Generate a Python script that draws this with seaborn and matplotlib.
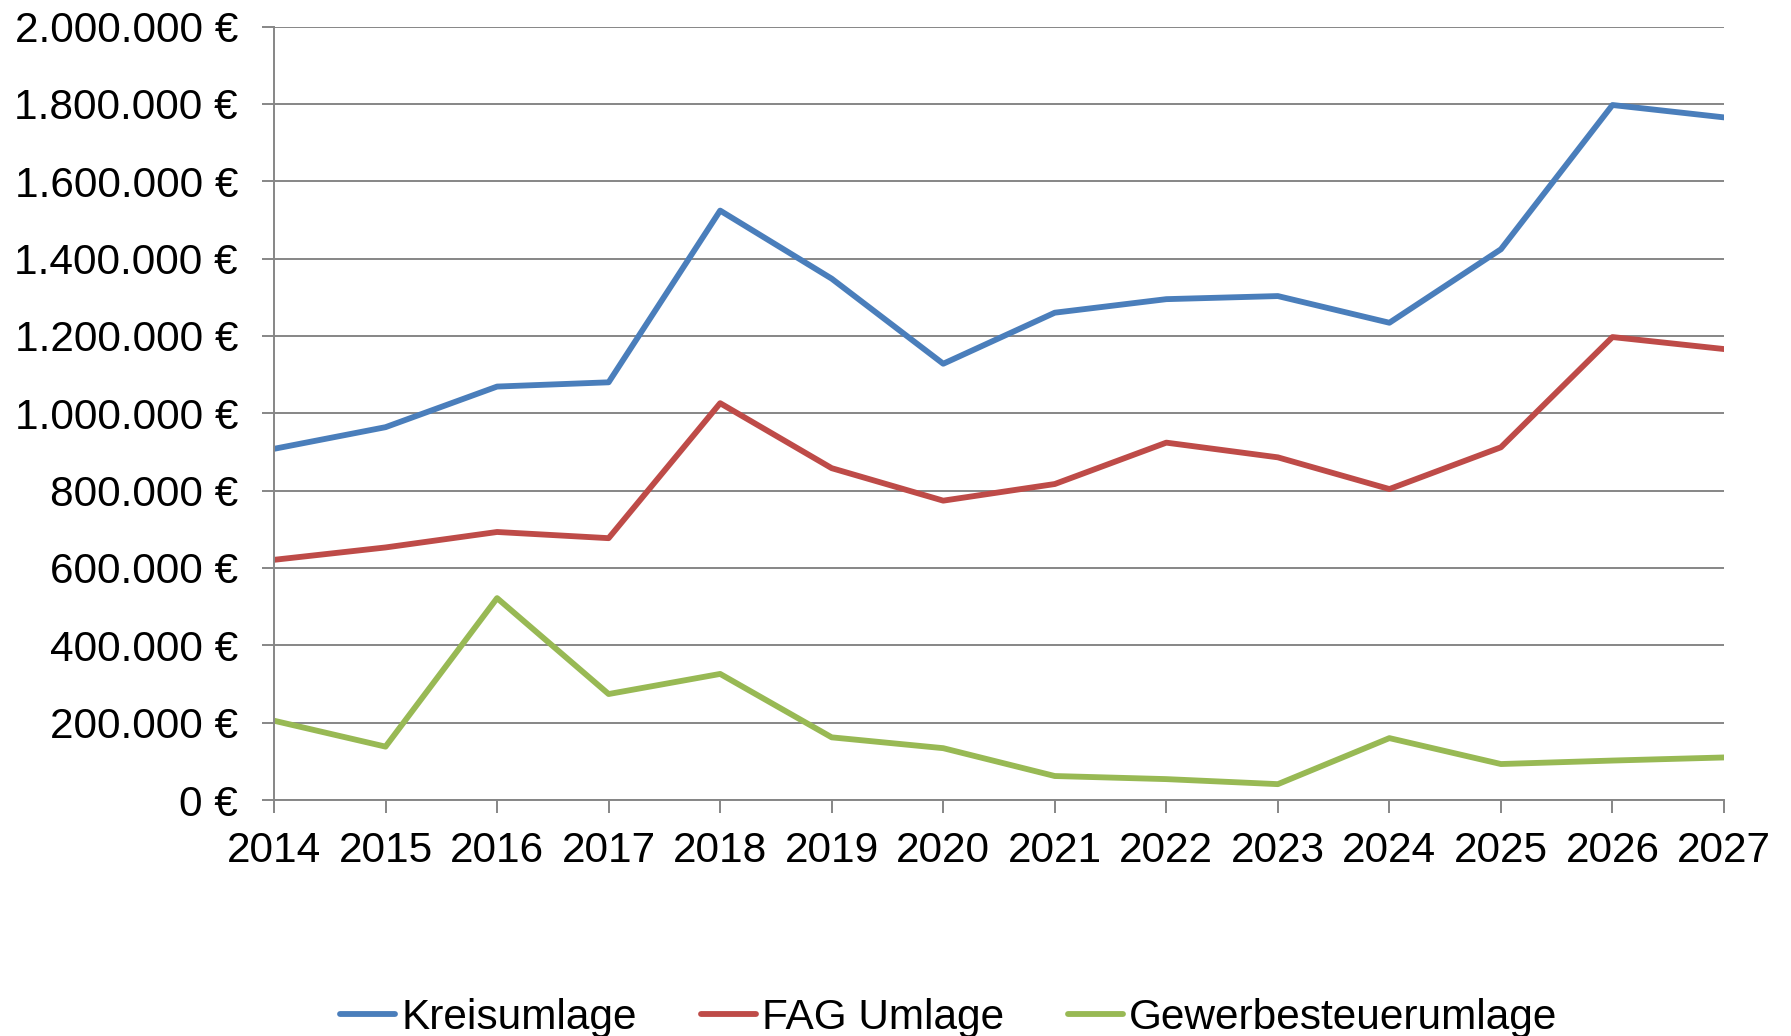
import matplotlib
matplotlib.use("Agg")
import matplotlib.pyplot as plt
from matplotlib.ticker import FuncFormatter
import seaborn as sns
import pandas as pd

years = list(range(2014, 2028))
kreisumlage = [908000, 964000, 1069000, 1080000, 1524000, 1348000, 1128000,
               1260000, 1295000, 1303000, 1234000, 1424000, 1797000, 1765000]
fag_umlage = [621000, 653000, 693000, 677000, 1026000, 858000, 774000,
              817000, 924000, 886000, 804000, 912000, 1197000, 1166000]
gewerbesteuerumlage = [205000, 138000, 522000, 274000, 326000, 162000, 134000,
                       62000, 54000, 41000, 160000, 93000, 102000, 110000]
series_names = ["Kreisumlage", "FAG Umlage", "Gewerbesteuerumlage"]
colors = ["#4A7EBB", "#BE4B48", "#98B954"]
yticks = list(range(0, 2000001, 200000))

df = pd.concat([
    pd.DataFrame({"Jahr": years, "Wert": vals, "Reihe": name})
    for name, vals in zip(series_names, [kreisumlage, fag_umlage, gewerbesteuerumlage])
])

sns.set_theme(style="white")
plt.rcParams["font.family"] = ["Liberation Sans", "DejaVu Sans"]
plt.rcParams["text.color"] = "black"

fig = plt.figure(figsize=(17.91, 10.36), dpi=100)
ax = fig.add_axes([274 / 1791, 1 - 800 / 1036, (1724 - 274) / 1791, (800 - 26.5) / 1036])

sns.lineplot(data=df, x="Jahr", y="Wert", hue="Reihe", hue_order=series_names,
             palette=colors, linewidth=4.2, ax=ax, legend=True)

ax.set_xlim(2014, 2027)
ax.set_ylim(0, 2000000)
ax.set_xticks(years)
ax.set_yticks(yticks)
ax.yaxis.set_major_formatter(FuncFormatter(lambda v, p: f"{int(v):,}".replace(",", ".") + " €"))
ax.set_xlabel("")
ax.set_ylabel("")

ax.grid(axis="y", color="#868686", linewidth=1.4)
ax.set_axisbelow(True)
for s in ["top", "right"]:
    ax.spines[s].set_visible(False)
for s in ["left", "bottom"]:
    ax.spines[s].set_color("#868686")
    ax.spines[s].set_linewidth(1.4)

ax.tick_params(axis="both", which="major", direction="out", length=9, width=1.4,
               color="#868686", labelsize=30.5, labelcolor="black")
ax.tick_params(axis="y", pad=17)
ax.tick_params(axis="x", pad=13, bottom=True)
ax.tick_params(axis="y", left=True)

handles, labels = ax.get_legend_handles_labels()
ax.get_legend().remove()
leg = fig.legend(handles, labels, loc="center", bbox_to_anchor=(949 / 1791, 1 - 1018 / 1036),
                 ncol=3, frameon=False, fontsize=30.5, handlelength=1.3, handletextpad=0.15,
                 columnspacing=1.5)
for t in leg.get_texts():
    t.set_color("black")

fig.savefig("out.png", dpi=100)
